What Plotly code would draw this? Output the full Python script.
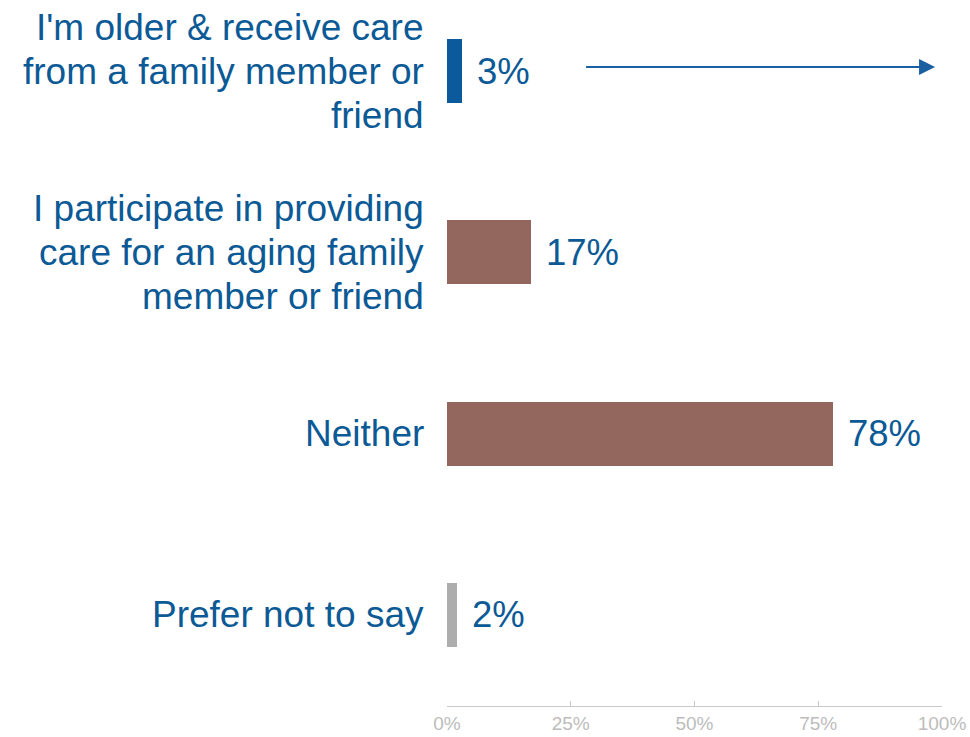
import plotly.graph_objects as go

# Survey responses: caregiving situation
categories = [
    "I'm older & receive care<br>from a family member or<br>friend",
    "I participate in providing<br>care for an aging family<br>member or friend",
    "Neither",
    "Prefer not to say",
]
shares = [3, 17, 78, 2]
bar_colors = ["#0b5a9b", "#93665e", "#93665e", "#adadad"]
tick_values = [0, 25, 50, 75, 100]
tick_labels = ["0%", "25%", "50%", "75%", "100%"]

TEXT_BLUE = "#0b5a96"
FONT = "Liberation Sans, Arial, sans-serif"
LINE_GAP = 44  # px between wrapped label lines

positions = list(range(len(categories)))

fig = go.Figure(
    go.Bar(
        x=shares,
        y=positions,
        orientation="h",
        marker=dict(color=bar_colors, line=dict(width=0)),
        width=0.353,
        hoverinfo="skip",
    )
)

annotations = []
# Category labels, right-aligned next to the axis, one annotation per line
for pos, label in zip(positions, categories):
    lines = label.split("<br>")
    n = len(lines)
    for j, line in enumerate(lines):
        annotations.append(dict(
            x=0, xref="paper", y=pos, yref="y",
            text=line, showarrow=False,
            xanchor="right", yanchor="middle",
            xshift=-21, yshift=((n - 1) / 2 - j) * LINE_GAP,
            font=dict(family=FONT, size=37, color=TEXT_BLUE),
        ))

# Value labels at the end of each bar
for pos, val in zip(positions, shares):
    annotations.append(dict(
        x=val, xref="x", y=pos, yref="y",
        text=f"{val}%", showarrow=False,
        xanchor="left", yanchor="middle", xshift=13,
        font=dict(family=FONT, size=36.5, color=TEXT_BLUE),
    ))

# Pointer arrow next to the first bar
annotations.append(dict(
    x=98.6, y=0, xref="x", yref="y",
    ax=27.8, ay=0, axref="x", ayref="y",
    yshift=4,
    text="", showarrow=True,
    arrowhead=2, arrowsize=1.6, arrowwidth=2, arrowcolor="#1a5f9f",
))

fig.update_layout(
    width=970, height=737,
    margin=dict(l=447, r=28, t=0, b=31),
    paper_bgcolor="white", plot_bgcolor="white",
    showlegend=False,
    bargap=0,
    annotations=annotations,
    xaxis=dict(
        range=[0, 100],
        tickvals=tick_values, ticktext=tick_labels,
        showgrid=False, zeroline=False,
        showline=True, linecolor="#c8c8c8", linewidth=1,
        ticks="inside", ticklen=5, tickcolor="#c8c8c8",
        tickfont=dict(family=FONT, size=19, color="#bcbcbc"),
        fixedrange=True,
    ),
    yaxis=dict(
        range=[3.503, -0.392],
        showticklabels=False, showgrid=False, zeroline=False,
        showline=False, ticks="",
        fixedrange=True,
    ),
)

fig.write_html("out.html")
